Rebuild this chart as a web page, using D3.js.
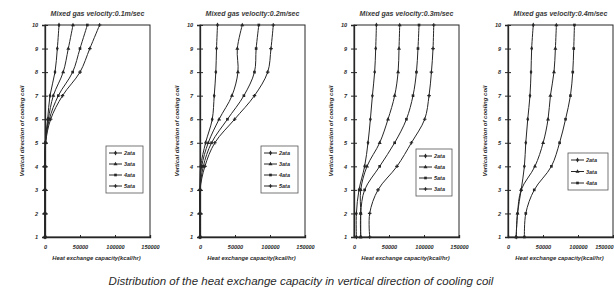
<!DOCTYPE html>
<html>
<head>
<meta charset="utf-8">
<script src="https://cdn.jsdelivr.net/npm/d3@7/dist/d3.min.js"></script>
<style>
  body { margin: 0; background: #fff; }
  text { font-family: "Liberation Sans", Arial, sans-serif; font-style: italic; fill: #2a2a2a; }
</style>
</head>
<body>
<svg id="chart" width="614" height="291"></svg>
<script>
// coil rows (bottom to top) and x axis ticks
var levels = [1, 2, 3, 4, 5, 6, 7, 8, 9, 10];
var xTicks = [0, 50000, 100000, 150000];

var titles = ["Mixed gas velocity:0.1m/sec", "Mixed gas velocity:0.2m/sec",
              "Mixed gas velocity:0.3m/sec", "Mixed gas velocity:0.4m/sec"];

// legend names per panel
var names1 = ["2ata", "3ata", "4ata", "5ata"];
var names2 = ["2ata", "3ata", "4ata", "5ata"];
var names3 = ["2ata", "4ata", "5ata", "3ata"];
var names4 = ["2ata", "3ata", "4ata"];

// heat exchange capacity (kcal/hr) per row
var p1_2ata = [0, 0, 0, 0, 300, 3800, 7100, 14300, 17600, 20000];
var p1_3ata = [0, 0, 0, 0, 500, 4800, 11900, 26000, 33300, 40000];
var p1_4ata = [0, 0, 0, 0, 700, 6200, 19000, 39500, 50000, 60500];
var p1_5ata = [0, 0, 0, 0, 900, 8100, 25000, 50000, 64000, 78000];

var p2_2ata = [0, 0, 0, 1000, 8000, 17500, 20300, 22600, 23600, 25000];
var p2_3ata = [0, 0, 0, 2400, 11800, 27300, 45700, 54200, 53300, 60400];
var p2_4ata = [0, 0, 0, 4700, 16500, 39200, 62700, 77800, 80200, 84000];
var p2_5ata = [0, 0, 0, 7000, 21200, 49500, 77800, 96700, 101400, 104700];

var p3_2ata = [3400, 3400, 7100, 15200, 20000, 23400, 26300, 29500, 31000, 32000];
var p3_4ata = [9600, 9600, 9600, 18600, 36700, 48600, 58100, 63000, 64300, 65300];
var p3_5ata = [9600, 9600, 15200, 36700, 58100, 74900, 84300, 89200, 91400, 92900];
var p3_3ata = [22400, 22400, 34300, 61400, 82000, 101000, 107200, 110600, 112900, 113900];

var p4_2ata = [11700, 13600, 18800, 23400, 25400, 28200, 31400, 32900, 33800, 36100];
var p4_3ata = [11700, 13600, 18800, 38500, 50200, 57200, 60600, 65700, 67700, 69100];
var p4_4ata = [23400, 25400, 37500, 62000, 73700, 82200, 89200, 92500, 93900, 94900];

var svg = d3.select("#chart");

var top_ = 25, bottom = 237, plotW = 105;
var symbols = [d3.symbolDiamond, d3.symbolTriangle, d3.symbolSquare, d3.symbolCross];
var ink = "#262626";

function createPanel(left, title, names, series, lg) {
  var x = d3.scaleLinear().domain([0, 150000]).range([left, left + plotW]);
  var y = d3.scaleLinear().domain([1, 10]).range([bottom, top_]);

  var g = svg.append("g");

  // frame
  g.append("rect")
    .attr("x", left).attr("y", top_)
    .attr("width", plotW).attr("height", bottom - top_)
    .attr("fill", "none").attr("stroke", ink).attr("stroke-width", 1);

  // title
  g.append("text")
    .attr("x", left + plotW / 2).attr("y", 16)
    .attr("text-anchor", "middle")
    .style("font-size", "7px").style("font-weight", "bold").style("fill", "#3a3a3a")
    .text(title);

  // y axis
  var yAxis = d3.axisLeft(y).tickValues(levels).tickSize(3).tickFormat(d3.format("d"));
  var ya = g.append("g").attr("transform", "translate(" + left + ",0)").call(yAxis);
  ya.select(".domain").attr("stroke", ink).attr("stroke-width", 1.3);
  ya.selectAll(".tick line").attr("stroke", ink).attr("x2", 3).attr("x1", -3);
  ya.selectAll(".tick text").attr("x", -7)
    .style("font-size", "5.5px").style("font-weight", "bold").style("font-family", "Liberation Sans").style("font-style", "italic");

  // x axis
  var xAxis = d3.axisBottom(x).tickValues(xTicks).tickSize(-2).tickFormat(d3.format("d"));
  var xa = g.append("g").attr("transform", "translate(0," + bottom + ")").call(xAxis);
  xa.select(".domain").attr("stroke", ink).attr("stroke-width", 1.3);
  xa.selectAll(".tick line").attr("stroke", ink);
  xa.selectAll(".tick text").attr("y", 8)
    .style("font-size", "5.5px").style("font-weight", "bold").style("font-family", "Liberation Sans").style("font-style", "italic");
  // keep the last label inside the page
  if (left + plotW + 10 > 614) {
    xa.selectAll(".tick text").filter(function(d) { return d === 150000; })
      .attr("text-anchor", "end").attr("x", 614 - (left + plotW) - 1);
  }

  // axis titles
  g.append("text")
    .attr("x", left + plotW / 2 - 1).attr("y", 260)
    .attr("text-anchor", "middle")
    .style("font-size", "5.8px").style("font-weight", "bold")
    .text("Heat exchange capacity(kcal/hr)");

  g.append("text")
    .attr("transform", "translate(" + (left - 21) + "," + ((top_ + bottom) / 2) + ") rotate(-90)")
    .attr("text-anchor", "middle")
    .style("font-size", "6px").style("font-weight", "bold")
    .text("Vertical direction of cooling coil");

  // curves
  var line = d3.line()
    .x(function(d) { return x(d.v); })
    .y(function(d) { return y(d.lv); })
    .curve(d3.curveCatmullRom.alpha(0.5));

  series.forEach(function(s, i) {
    var pts = levels.map(function(lv, k) { return { lv: lv, v: s[k] }; });
    g.append("path").datum(pts)
      .attr("d", line)
      .attr("fill", "none").attr("stroke", ink).attr("stroke-width", 1);
    g.selectAll(".m" + i).data(pts).enter().append("path")
      .attr("class", "m" + i)
      .attr("transform", function(d) { return "translate(" + x(d.v) + "," + y(d.lv) + ")"; })
      .attr("d", d3.symbol().type(symbols[i]).size(7))
      .attr("fill", ink);
  });

  // legend
  var lgG = g.append("g");
  lgG.append("rect")
    .attr("x", lg.x).attr("y", lg.y).attr("width", lg.w).attr("height", lg.h)
    .attr("fill", "#fff").attr("stroke", "#555").attr("stroke-width", 0.8);
  names.forEach(function(n, i) {
    var ly = lg.y + 7 + i * lg.step;
    lgG.append("line")
      .attr("x1", lg.x + 3).attr("x2", lg.x + 16)
      .attr("y1", ly).attr("y2", ly)
      .attr("stroke", ink).attr("stroke-width", 1);
    lgG.append("path")
      .attr("transform", "translate(" + (lg.x + 9.5) + "," + ly + ")")
      .attr("d", d3.symbol().type(symbols[i]).size(7))
      .attr("fill", ink);
    lgG.append("text")
      .attr("x", lg.x + 18).attr("y", ly + 2)
      .style("font-size", "5.5px").style("font-weight", "bold")
      .text(n);
  });
}

createPanel(45, titles[0], names1, [p1_2ata, p1_3ata, p1_4ata, p1_5ata], { x: 106, y: 146, w: 37, h: 47, step: 11 });
createPanel(200, titles[1], names2, [p2_2ata, p2_3ata, p2_4ata, p2_5ata], { x: 261, y: 146, w: 37, h: 47, step: 11 });
createPanel(354, titles[2], names3, [p3_2ata, p3_4ata, p3_5ata, p3_3ata], { x: 416, y: 149, w: 36, h: 47, step: 11 });
createPanel(508, titles[3], names4, [p4_2ata, p4_3ata, p4_4ata], { x: 568, y: 153, w: 40, h: 37, step: 11.5 });

// caption
svg.append("text")
  .attr("x", 301).attr("y", 285)
  .attr("text-anchor", "middle")
  .style("font-size", "11.5px")
  .style("fill", "#2a2a2a")
  .text("Distribution of the heat exchange capacity in vertical direction of cooling coil");
</script>
</body>
</html>
